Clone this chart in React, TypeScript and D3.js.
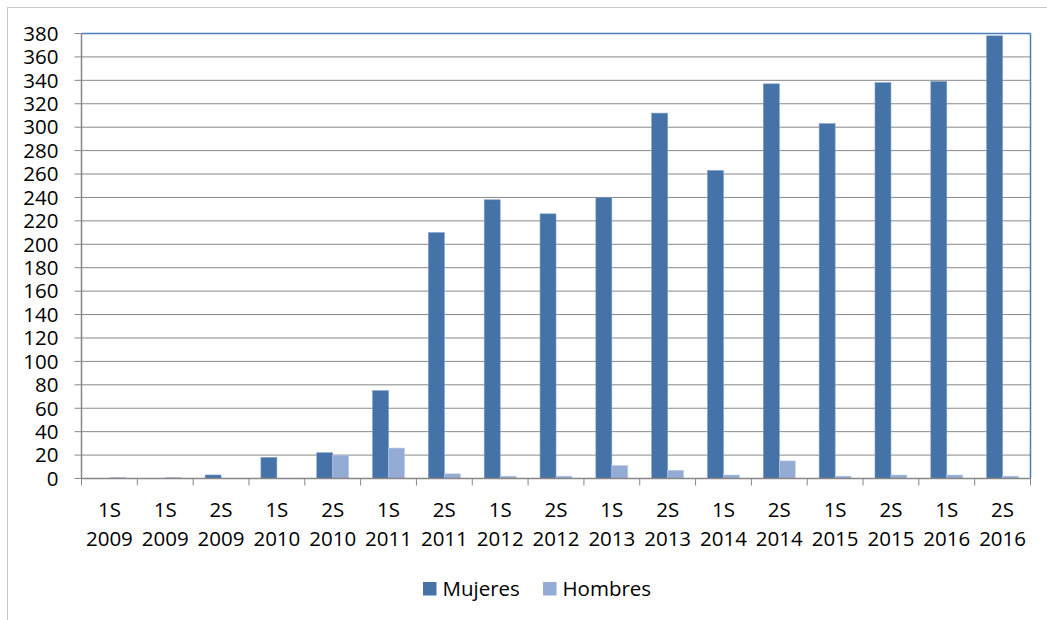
import React from "react";
import * as d3 from "d3";

const categories = ["1S 2009","1S 2009","2S 2009","1S 2010","2S 2010","1S 2011","2S 2011","1S 2012","2S 2012","1S 2013","2S 2013","1S 2014","2S 2014","1S 2015","2S 2015","1S 2016","2S 2016"];
const mujeres = [0,0,3,18,22,75,210,238,226,240,312,263,337,303,338,339,378];
const hombres = [1,1,0,0,20,26,4,2,2,11,7,3,15,2,3,3,2];
const yTicks = d3.range(0, 381, 20);
const seriesNames = ["Mujeres","Hombres"];
const colors = ["#4572a7","#94abd4"];

export default function App() {
  const W = 1047, H = 620;
  const left = 81.5, right = 1030.5, top = 33.5, bottom = 478.5;
  const font = "'Open Sans', sans-serif";
  const fs = 20.5;
  const x = d3.scaleBand<number>().domain(d3.range(categories.length)).range([left, right]).paddingInner(0).paddingOuter(0);
  const y = d3.scaleLinear().domain([0, 380]).range([bottom, top]);
  const bw = x.bandwidth();
  const barW = bw / 3.5;
  const series = [mujeres, hombres];
  return (
    <svg width={W} height={H} style={{ position: "absolute", left: 0, top: 0 }} fontFamily={font}>
      <rect x={7.5} y={7.5} width={W} height={H} fill="white" stroke="#c8c8c8" />
      {yTicks.map((t) => (
        <g key={t}>
          {t > 0 && t < 380 && <line x1={left} x2={right} y1={y(t)} y2={y(t)} stroke="#888" strokeWidth={1} />}
          <line x1={left - 7} x2={left} y1={y(t)} y2={y(t)} stroke="#888" />
          <text x={58.5} y={y(t) + 7.3} textAnchor="end" fontSize={fs} fill="#000">{t}</text>
        </g>
      ))}
      {series.map((vals, si) =>
        vals.map((v, i) => {
          const xx = (x(i) as number) + bw / 2 - barW + si * barW;
          return v > 0 ? (
            <rect key={si + "-" + i} x={xx} y={y(v)} width={barW} height={y(0) - y(v)} fill={colors[si]} stroke={si === 0 ? "#7a9cc8" : "#b9c9e4"} strokeWidth={0.6} />
          ) : null;
        })
      )}
      <line x1={left} x2={right} y1={top} y2={top} stroke="#4a7ebb" strokeWidth={1.5} />
      <line x1={right} x2={right} y1={top} y2={bottom} stroke="#4a7ebb" strokeWidth={1.5} />
      <line x1={left} x2={left} y1={top} y2={bottom} stroke="#868686" strokeWidth={1.5} />
      <line x1={left} x2={right} y1={bottom} y2={bottom} stroke="#868686" strokeWidth={1.5} />
      {d3.range(categories.length + 1).map((i) => {
        const xx = i < categories.length ? (x(i) as number) : right;
        return <line key={"t" + i} x1={xx} x2={xx} y1={bottom} y2={bottom + 7} stroke="#868686" />;
      })}
      {categories.map((c, i) => {
        const [a, b] = c.split(" ");
        const cx = (x(i) as number) + bw / 2;
        return (
          <text key={"c" + i} x={cx} textAnchor="middle" fontSize={fs} fill="#000">
            <tspan x={cx} y={517.3}>{a}</tspan>
            <tspan x={cx} y={545.7}>{b}</tspan>
          </text>
        );
      })}
      {seriesNames.map((n, i) => {
        const lx = i === 0 ? 423 : 543;
        return (
          <g key={n}>
            <rect x={lx} y={582} width={13.5} height={13.5} fill={colors[i]} />
            <text x={lx + 19.5} y={595.7} fontSize={fs} fill="#000">{n}</text>
          </g>
        );
      })}
    </svg>
  );
}
